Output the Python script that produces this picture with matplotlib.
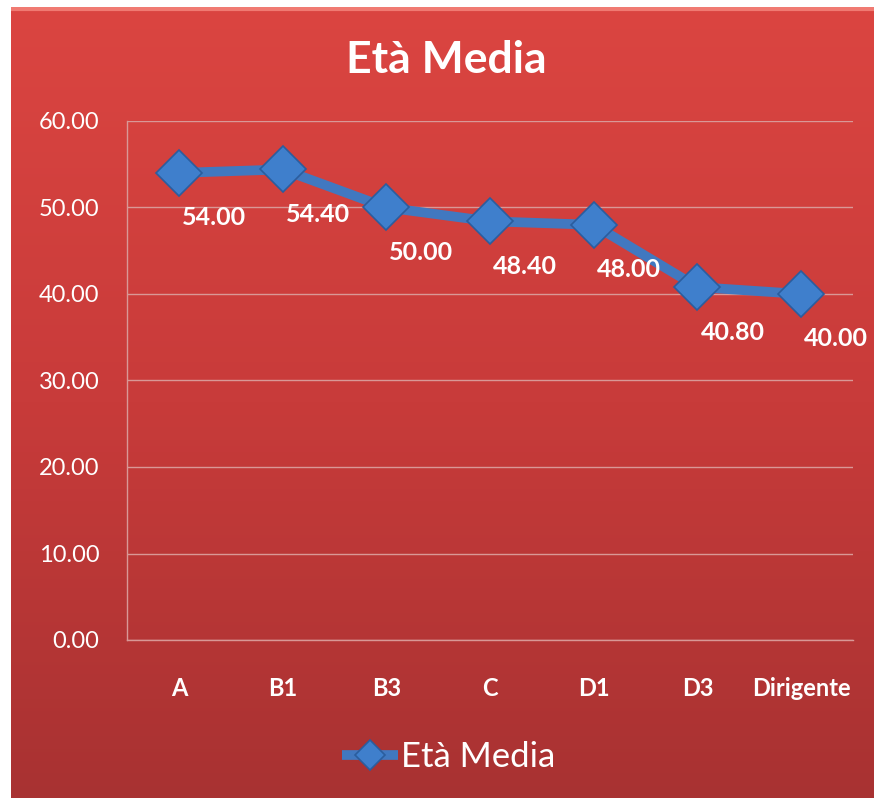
import numpy as np
import matplotlib.pyplot as plt
from matplotlib.colors import LinearSegmentedColormap

# dati
categorie = ['A', 'B1', 'B3', 'C', 'D1', 'D3', 'Dirigente']
eta_media = [54.0, 54.4, 50.0, 48.4, 48.0, 40.8, 40.0]
y_ticks = [0, 10, 20, 30, 40, 50, 60]

plt.rcParams['font.family'] = ['Lato', 'DejaVu Sans']

fig = plt.figure(figsize=(8.74, 8.0), dpi=100)
fig.patch.set_facecolor('white')

# sfondo rosso sfumato
bg = fig.add_axes([11 / 874, 2 / 800, 1 - 11 / 874, 791 / 800])
cmap = LinearSegmentedColormap.from_list('rosso', ['#db4541', '#c83b3a', '#a83232'])
grad = np.linspace(0, 1, 256).reshape(-1, 1)
bg.imshow(grad, aspect='auto', cmap=cmap, extent=[0, 1, 0, 1], origin='upper')
bg.axhline(0.997, color='#f07a72', lw=3)
bg.set_axis_off()
bg.set_zorder(0)

ax = fig.add_axes([127 / 874, 160 / 800, 726 / 874, 519 / 800])
ax.set_zorder(1)
ax.patch.set_alpha(0)

x = np.arange(len(categorie))
ax.plot(x, eta_media, color='#4178c0', lw=7, solid_capstyle='butt', zorder=3,
        marker='D', markersize=23, markerfacecolor='#3f7fcc',
        markeredgecolor='#2b5d9e', markeredgewidth=1.2, label='Età Media')

for xi, v in zip(x, eta_media):
    ax.annotate(f'{v:.2f}', (xi, v), xytext=(35, -45), textcoords='offset pixels',
                ha='center', va='center', color='white', fontsize=18,
                fontweight='bold', zorder=4, annotation_clip=False)

ax.set_xlim(-0.5, len(categorie) - 0.5)
ax.set_ylim(0, 60)
ax.set_yticks(y_ticks)
ax.set_yticklabels([f'{t:.2f}' for t in y_ticks], color='white', fontsize=17)
ax.set_xticks(x)
ax.set_xticklabels(categorie, color='white', fontsize=17, fontweight='bold')
ax.tick_params(length=0)
ax.tick_params(axis='y', pad=20)
ax.tick_params(axis='x', pad=27)
ax.grid(axis='y', color='#d99896', lw=1)
ax.set_axisbelow(True)
for s in ['top', 'right']:
    ax.spines[s].set_visible(False)
for s in ['left', 'bottom']:
    ax.spines[s].set_color('#d99896')
    ax.spines[s].set_linewidth(1)

fig.text(446 / 874, 1 - 60 / 800, 'Età Media', ha='center', va='center',
         color='white', fontsize=32, fontweight='bold')

leg = fig.legend(loc='center', bbox_to_anchor=(449 / 874, 1 - 757 / 800),
                 frameon=False, fontsize=25, handlelength=1.6, handletextpad=0.1,
                 markerscale=0.65)
for t in leg.get_texts():
    t.set_color('white')

fig.savefig('out.png', dpi=100, facecolor=fig.get_facecolor())
